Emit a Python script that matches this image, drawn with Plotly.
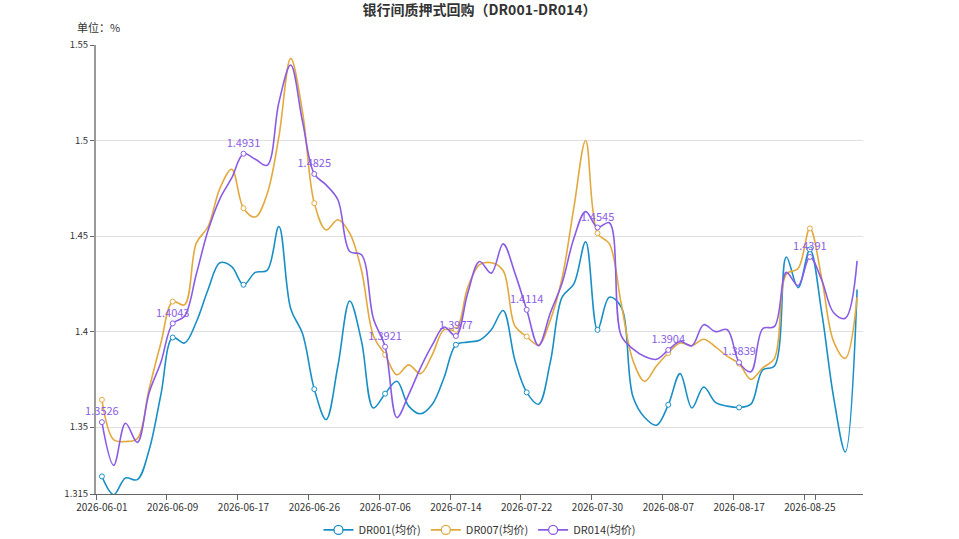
import plotly.graph_objects as go

# trading days (category axis)
dates = [
    "2026-06-01", "2026-06-02", "2026-06-03", "2026-06-04", "2026-06-05",
    "2026-06-08", "2026-06-09", "2026-06-10", "2026-06-11", "2026-06-12",
    "2026-06-15", "2026-06-16", "2026-06-17", "2026-06-18", "2026-06-22",
    "2026-06-23", "2026-06-24", "2026-06-25", "2026-06-26", "2026-06-29",
    "2026-06-30", "2026-07-01", "2026-07-02", "2026-07-03", "2026-07-06",
    "2026-07-07", "2026-07-08", "2026-07-09", "2026-07-10", "2026-07-13",
    "2026-07-14", "2026-07-15", "2026-07-16", "2026-07-17", "2026-07-20",
    "2026-07-21", "2026-07-22", "2026-07-23", "2026-07-24", "2026-07-27",
    "2026-07-28", "2026-07-29", "2026-07-30", "2026-07-31", "2026-08-03",
    "2026-08-04", "2026-08-05", "2026-08-06", "2026-08-07", "2026-08-10",
    "2026-08-11", "2026-08-12", "2026-08-13", "2026-08-14", "2026-08-17",
    "2026-08-18", "2026-08-19", "2026-08-20", "2026-08-21", "2026-08-24",
    "2026-08-25", "2026-08-26", "2026-08-27", "2026-08-28", "2026-08-31",
]

dr001 = [
    1.3242, 1.3146, 1.3234, 1.3225, 1.3380, 1.3670, 1.3969, 1.3940, 1.4050, 1.4220,
    1.4360, 1.4340, 1.4245, 1.4310, 1.4320, 1.4550, 1.4120, 1.3990, 1.3699, 1.3540,
    1.3820, 1.4160, 1.3950, 1.3600, 1.3675, 1.3740, 1.3610, 1.3570, 1.3620, 1.3760,
    1.3931, 1.3945, 1.3955, 1.4010, 1.4110, 1.3850, 1.3682, 1.3620, 1.3840, 1.4180,
    1.4250, 1.4470, 1.4009, 1.4180, 1.4130, 1.3660, 1.3550, 1.3510, 1.3617, 1.3780,
    1.3600, 1.3710, 1.3630, 1.3610, 1.3603, 1.3620, 1.3800, 1.3820, 1.4390, 1.4230,
    1.4430, 1.4100, 1.3660, 1.3370, 1.4220,
]

dr007 = [
    1.3643, 1.3434, 1.3425, 1.3440, 1.3700, 1.3940, 1.4157, 1.4140, 1.4463, 1.4550,
    1.4750, 1.4850, 1.4646, 1.4600, 1.4720, 1.5020, 1.5430, 1.5150, 1.4672, 1.4532,
    1.4585, 1.4515, 1.4320, 1.3980, 1.3879, 1.3774, 1.3826, 1.3780, 1.3880, 1.4010,
    1.4010, 1.4230, 1.4350, 1.4360, 1.4320, 1.4030, 1.3974, 1.3930, 1.4060, 1.4280,
    1.4650, 1.5000, 1.4515, 1.4460, 1.4150, 1.3850, 1.3740, 1.3820, 1.3888, 1.3940,
    1.3926, 1.3960, 1.3920, 1.3870, 1.3832, 1.3750, 1.3810, 1.3860, 1.4300, 1.4330,
    1.4540, 1.4280, 1.3950, 1.3860, 1.4180,
]

dr014 = [
    1.3526, 1.3300, 1.3520, 1.3420, 1.3680, 1.3840, 1.4043, 1.4080, 1.4300, 1.4530,
    1.4695, 1.4804, 1.4931, 1.4902, 1.4870, 1.5200, 1.5395, 1.5100, 1.4825, 1.4768,
    1.4690, 1.4419, 1.4402, 1.4070, 1.3921, 1.3550, 1.3670, 1.3810, 1.3930, 1.4024,
    1.3977, 1.4201, 1.4367, 1.4306, 1.4459, 1.4306, 1.4114, 1.3926, 1.4097, 1.4254,
    1.4489, 1.4628, 1.4545, 1.4570, 1.3980, 1.3910, 1.3870, 1.3855, 1.3904, 1.3948,
    1.3926, 1.4036, 1.4000, 1.4010, 1.3839, 1.3790, 1.4015, 1.4027, 1.4310, 1.4240,
    1.4391, 1.4270, 1.4100, 1.4070, 1.4370,
]

series = [
    ("DR001(均价)", dr001, "#1a8fc6"),
    ("DR007(均价)", dr007, "#e3a93f"),
    ("DR014(均价)", dr014, "#8a5ce6"),
]

y_ticks = [1.315, 1.35, 1.4, 1.45, 1.5, 1.55]
y_tick_text = ["1.315", "1.35", "1.4", "1.45", "1.5", "1.55"]
label_step = 6

fig = go.Figure()
for name, vals, color in series:
    # smooth line
    fig.add_trace(go.Scatter(
        x=dates, y=vals, mode="lines", showlegend=False, hoverinfo="skip",
        line=dict(color=color, width=1.6, shape="spline", smoothing=1.0),
    ))
    # hollow symbols every few points
    sx = dates[::label_step]
    sy = vals[::label_step]
    pts = go.Scatter(
        x=sx, y=sy, mode="markers", showlegend=False, cliponaxis=False,
        marker=dict(size=5, color="white", line=dict(color=color, width=1)),
    )
    if name.startswith("DR014"):
        pts.mode = "markers+text"
        pts.text = [f"{v:.4f}" for v in sy]
        pts.textposition = "top center"
        pts.textfont = dict(color=color, size=11)
    fig.add_trace(pts)
    # legend entry
    fig.add_trace(go.Scatter(
        x=[None], y=[None], name=name, mode="lines+markers",
        line=dict(color=color, width=1.6),
        marker=dict(size=9, color="white", line=dict(color=color, width=1.3)),
    ))

fig.update_layout(
    width=959, height=539,
    margin=dict(l=96, r=96, t=45, b=45, autoexpand=False),
    paper_bgcolor="white", plot_bgcolor="white",
    font=dict(family="Noto Sans CJK SC, Noto Sans, sans-serif", color="#333", size=10),
    title=dict(text="<b>银行间质押式回购（DR001-DR014）</b>", x=0.5, xanchor="center",
               y=0.982, yanchor="middle", font=dict(size=14, color="#333")),
    showlegend=True,
    legend=dict(orientation="h", x=0.5, xanchor="center", y=-0.08, yanchor="middle",
                font=dict(size=11, color="#333"), itemwidth=30, tracegroupgap=0),
    annotations=[dict(text="单位：%", xref="paper", yref="paper", x=-0.027, y=1.04,
                      xanchor="left", yanchor="middle", showarrow=False,
                      font=dict(size=11, color="#333"))],
)

fig.update_xaxes(
    type="category", range=[-0.5, len(dates) - 0.5], automargin=False,
    tickmode="array", tickvals=dates[::label_step], ticktext=dates[::label_step],
    tickson="boundaries", ticks="outside", ticklen=5, tickcolor="#666", tickangle=0,
    showline=True, linecolor="#666", linewidth=1, showgrid=False,
    tickfont=dict(size=10, color="#333"), ticklabelstandoff=4,
)
fig.update_yaxes(
    range=[1.315, 1.55], tickmode="array", tickvals=y_ticks, ticktext=y_tick_text,
    automargin=False, ticks="outside", ticklen=4, tickcolor="#666",
    showline=True, linecolor="#999", linewidth=2, showgrid=True, gridcolor="#e0e0e0",
    zeroline=False, tickfont=dict(size=9.5, color="#333"),
)

fig.write_html("out.html", config={"displayModeBar": False},
               post_script="document.body.style.margin='0';")
